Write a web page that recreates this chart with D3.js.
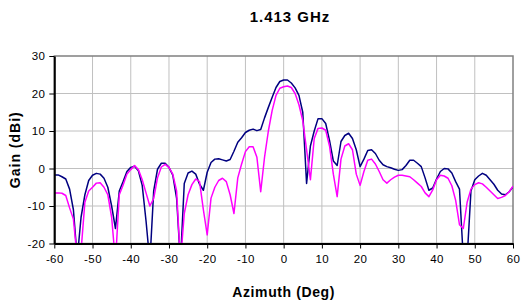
<!DOCTYPE html>
<html>
<head>
<meta charset="UTF-8">
<title>1.413 GHz</title>
<style>
  body { margin: 0; background: #fff; }
  svg { display: block; font-family: "Liberation Sans", Arial, sans-serif; }
  .grid line { stroke: #c0c0c0; stroke-width: 1; }
  .axis text { font-size: 11.5px; fill: #000; letter-spacing: 0.4px; }
  .axis path, .axis line { stroke: #000; }
  .title { font-weight: bold; }
</style>
</head>
<body>
<div id="chart"></div>
<script src="https://cdnjs.cloudflare.com/ajax/libs/d3/7.8.5/d3.min.js"></script>
<script>
// azimuth in degrees, one sample per degree
const azimuth = d3.range(-60, 61, 1);

// dark blue trace (dBi)
const gainBlue = [
  -1.7, -1.7, -2.2, -2.8, -5.5, -11, -24, -13, -7, -3.2,
  -1.8, -1.3, -1.5, -2.6, -5, -10, -16, -6, -3.5, -0.8,
  0.3, 0.6, -0.6, -4.5, -14, -25, -6, -0.2, 1.4, 1.4,
  0.3, -1.8, -8, -25, -4, -1.2, -0.7, -1.5, -4.2, -5.8,
  -1, 1.6, 2.5, 2.6, 2.3, 2.0, 2.4, 4.6, 7, 8.2,
  9.6, 10.2, 10.5, 10.1, 10.4, 13.5, 16.3, 19, 21.6, 23.2,
  23.6,
  23.6, 22.8, 21.5, 19.5, 15, -4, 6, 10, 13.3, 13.3,
  12, 7.5, 2, 0.8, 7.2, 8.8, 9.4, 8, 5, 0.5,
  2.5, 4.8, 5, 4, 2.2, 1, 0.5, 0.2, -0.2, -0.5,
  -0.3, 0.8, 2.2, 2.2, 1.4, 0.5, -2.5, -5.8, -5.2, -2.8,
  -0.8, 0, -0.1, -1.2, -3.5, -5.5, -24, -24, -6, -3,
  -2, -1.3, -1.8, -3, -4.2, -5.8, -6.8, -7, -6.2, -4.9
];

// magenta trace (dBi)
const gainMagenta = [
  -6.5, -6.5, -6.6, -7.2, -10.5, -13.5, -24, -22, -9, -6,
  -5, -3.9, -3.8, -5, -7, -13, -25, -7, -4.4, -1.5,
  -0.3, 0.8, -0.3, -3, -6.5, -10, -8, -2.5, 0.4, 1.1,
  0.3, -1.5, -6, -25, -12, -7, -4.3, -2.8, -3.5, -11,
  -17.7, -7.9, -5, -3.2, -2.6, -3.5, -7, -12, -2.5, 1.2,
  4.5, 5.8, 5.8, 3, -6.2, 3, 10, 15.5, 19.5, 21.4,
  21.8,
  22, 21.6, 20, 17, 12.8, 5, -3, 8, 10.7, 10.8,
  10.2, 6, -1.5, -7.5, 2.5, 6, 6.6, 5, -1.5, -4.5,
  -0.8, 2.2, 2.5, 1.2, -0.8, -3, -3.9, -3, -2.3, -1.8,
  -1.8, -2, -2.2, -3, -3.9, -4.8, -6.5, -7.5, -5.7, -3,
  -1.8, -2, -2.6, -4.6, -8.5, -15, -16, -9, -5.5, -4.3,
  -3.8, -4.1, -5, -6, -7, -8, -7.7, -7.2, -6.2, -4.7
];

const xTicks = d3.range(-60, 61, 10);
const yTicks = d3.range(-20, 31, 10);

const width = 525, height = 303;
const margin = { top: 56, right: 12, bottom: 59.5, left: 54.3 };
const innerW = width - margin.left - margin.right;
const innerH = height - margin.top - margin.bottom;

const svg = d3.select("#chart").append("svg")
  .attr("width", width)
  .attr("height", height);

const x = d3.scaleLinear().domain([-60, 60]).range([0, innerW]);
const y = d3.scaleLinear().domain([-20, 30]).range([innerH, 0]);

const g = svg.append("g")
  .attr("transform", `translate(${margin.left},${margin.top})`);

// grid
g.append("g").attr("class", "grid")
  .selectAll("line.v").data(xTicks.slice(1, -1)).enter().append("line")
  .attr("x1", d => x(d)).attr("x2", d => x(d))
  .attr("y1", 0).attr("y2", innerH);
g.select(".grid")
  .selectAll("line.h").data(yTicks.slice(1, -1)).enter().append("line")
  .attr("x1", 0).attr("x2", innerW)
  .attr("y1", d => y(d)).attr("y2", d => y(d));

// frame (top and right in grey)
g.append("rect")
  .attr("x", 0).attr("y", 0)
  .attr("width", innerW).attr("height", innerH)
  .attr("fill", "none").attr("stroke", "#808080").attr("stroke-width", 1.5);

g.append("clipPath").attr("id", "plot-clip")
  .append("rect").attr("width", innerW).attr("height", innerH);

const line = d3.line()
  .x((d, i) => x(azimuth[i]))
  .y(d => y(d));

const traces = [
  { values: gainBlue, color: "#000080" },
  { values: gainMagenta, color: "#ff00ff" }
];

g.append("g").attr("clip-path", "url(#plot-clip)")
  .selectAll("path").data(traces).enter().append("path")
  .attr("d", d => line(d.values))
  .attr("fill", "none")
  .attr("stroke", d => d.color)
  .attr("stroke-width", 1.5)
  .attr("stroke-linejoin", "round");

// axes, plain hyphen for negatives like the original
const fmt = d => String(d);

const xAxis = g.append("g").attr("class", "axis")
  .attr("transform", `translate(0,${innerH})`)
  .call(d3.axisBottom(x).tickValues(xTicks).tickFormat(fmt)
    .tickSize(5).tickPadding(6).tickSizeOuter(0));
xAxis.select(".domain").attr("stroke-width", 2);

const yAxis = g.append("g").attr("class", "axis")
  .call(d3.axisLeft(y).tickValues(yTicks).tickFormat(fmt)
    .tickSize(5).tickPadding(4).tickSizeOuter(0));
yAxis.select(".domain").attr("stroke-width", 2);

// titles (the original's bold text is set rather wide)
svg.append("text").attr("class", "title")
  .attr("x", 290).attr("y", 22)
  .attr("text-anchor", "middle")
  .style("font-size", "15px").style("letter-spacing", "1px")
  .text("1.413 GHz");

svg.append("text").attr("class", "title")
  .attr("x", margin.left + innerW / 2).attr("y", 297)
  .attr("text-anchor", "middle")
  .style("font-size", "14px").style("letter-spacing", "0.6px")
  .text("Azimuth (Deg)");

svg.append("text").attr("class", "title")
  .attr("transform", `translate(20,${margin.top + innerH / 2}) rotate(-90)`)
  .attr("text-anchor", "middle")
  .style("font-size", "14px").style("letter-spacing", "1px")
  .text("Gain (dBi)");
</script>
</body>
</html>
